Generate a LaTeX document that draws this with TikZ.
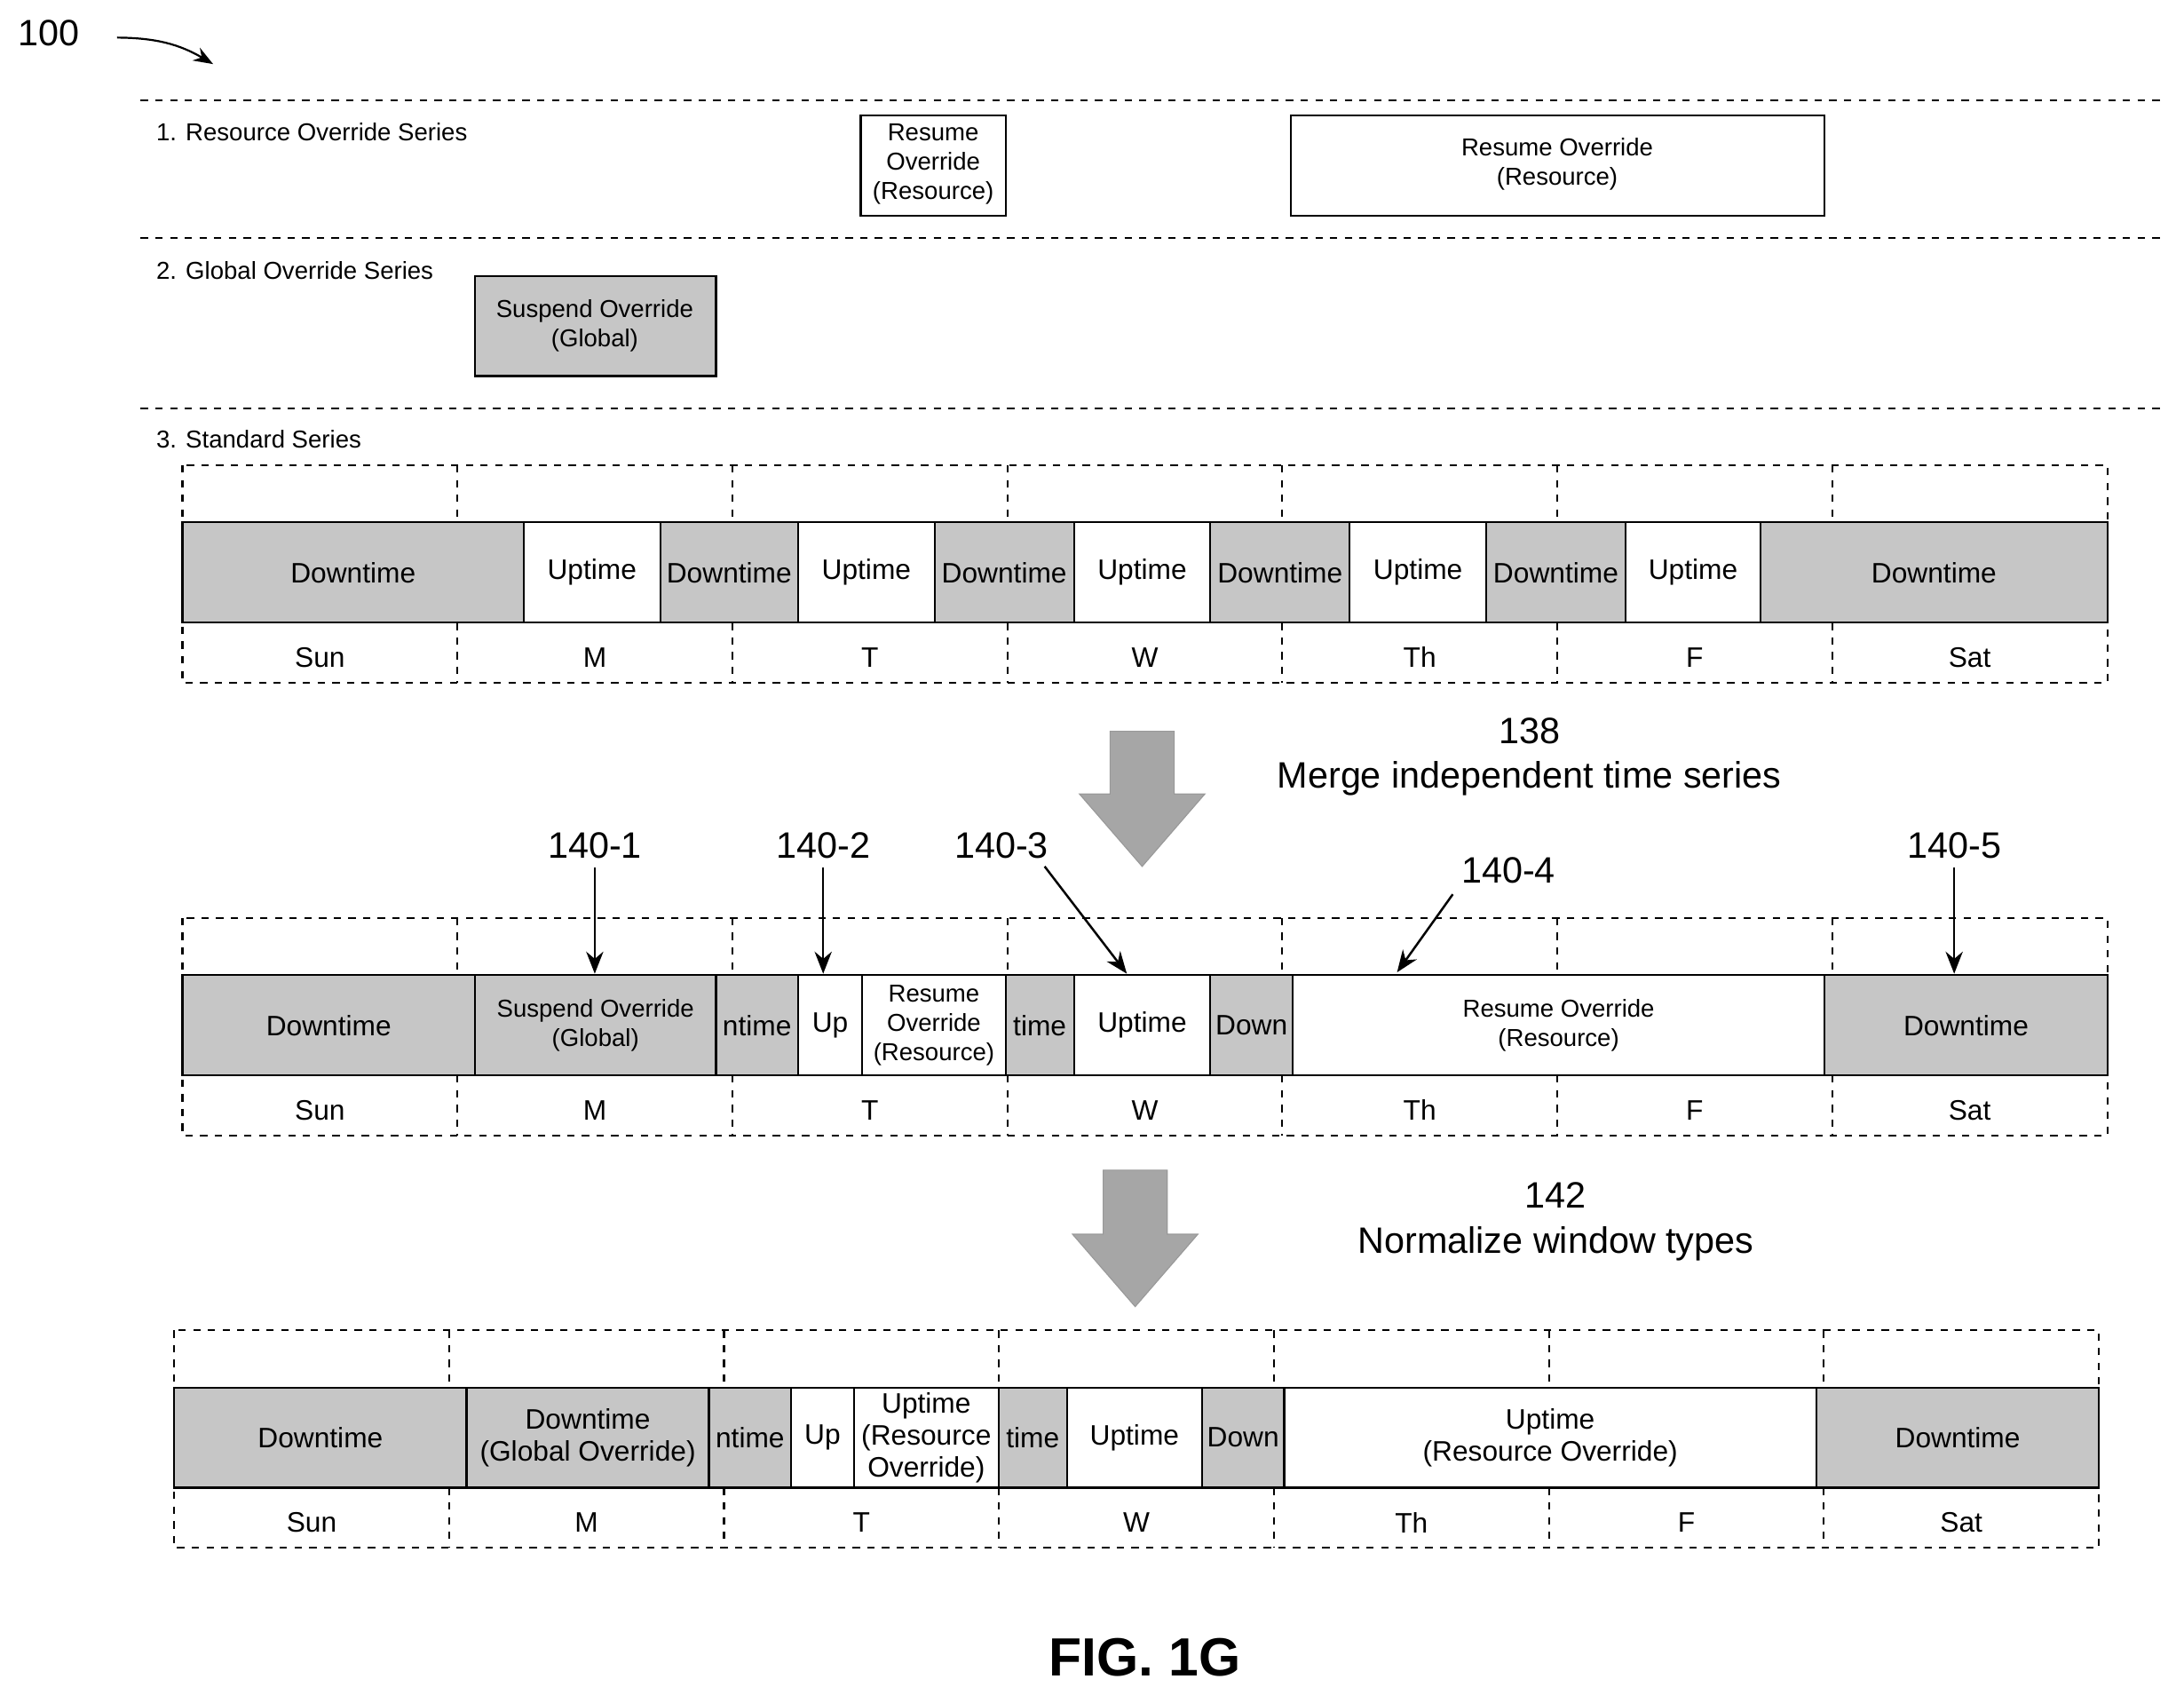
\documentclass[tikz,border=0pt]{standalone}
\usepackage{fontspec}
\setmainfont{Liberation Sans}
\usetikzlibrary{arrows.meta}

\tikzset{
  down/.style={draw, line width=0.8pt, fill=gray!45},
  up/.style={draw, line width=0.8pt, fill=white},
  frame/.style={draw, dashed, line width=0.8pt},
  txt/.style={font=\fontsize{11.5}{13}\selectfont, align=center},
  small/.style={font=\fontsize{10}{12}\selectfont, align=center},
  big/.style={font=\fontsize{15}{18}\selectfont, align=center},
  callout/.style={-{Stealth[length=9pt,width=7pt]}, line width=0.9pt},
  blockarrow/.style={fill=gray!70, draw=gray!80}
}

% segment of a bar: x1, x2, top y, style, text, text style
\newcommand{\seg}[6]{%
  \path[#4] (#1,#3) rectangle (#2,#3+72);
  \node[#6] at ({(#1+#2)/2},#3+36) {#5};
}
% week frame: x offset, top y
\newcommand{\weekframe}[2]{%
  \draw[frame] (#1+131,#2) rectangle (#1+1513,#2+156);
  \foreach \d/\n [count=\i from 0] in {Sun/a,M/b,T/c,W/d,Th/e,F/f,Sat/g} {
    \node[txt] at (#1+131+\i*197.4+98.7,#2+138) {\d};
  }
  \foreach \i in {1,...,6} {
    \draw[dashed, line width=0.8pt] (#1+131+\i*197.4,#2) -- (#1+131+\i*197.4,#2+41);
    \draw[dashed, line width=0.8pt] (#1+131+\i*197.4,#2+113) -- (#1+131+\i*197.4,#2+156);
  }
}
% big block arrow: center x, top y, tip y
\newcommand{\bigarrow}[3]{%
  \path[blockarrow] (#1-23,#2) -- (#1+23,#2) -- (#1+23,#3-52) -- (#1+45,#3-52)
    -- (#1,#3) -- (#1-45,#3-52) -- (#1-23,#3-52) -- cycle;
}

\begin{document}
\begin{tikzpicture}[x=0.02cm, y=-0.02cm]
  \useasboundingbox (0,0) rectangle (1568,1222);

  % figure number
  \node[big] (fig) at (35,24) {100};
  \draw[-{Stealth[length=8pt]}, line width=0.8pt] (84,27) to[bend left=15] (153,46);

  % series separators
  \foreach \y in {72,171,293} {
    \draw[dashed, line width=0.8pt] (101,\y) -- (1555,\y);
  }
  \node[small, anchor=west] at (106,95) {1. Resource Override Series};
  \node[small, anchor=west] at (106,194) {2. Global Override Series};
  \node[small, anchor=west] at (106,315) {3. Standard Series};

  % override series
  \path[up] (618,83) rectangle (722,155);
  \node[small] at (670,118) {Resume\\Override\\(Resource)};
  \path[up] (927,83) rectangle (1310,155);
  \node[small] at (1118,118) {Resume Override\\(Resource)};
  \path[down] (341,198) rectangle (514,270);
  \node[small] at (427,234) {Suspend Override\\(Global)};

  % standard series
  \weekframe{0}{334}
  \seg{131}{376}{375}{down}{Downtime}{txt}
  \seg{376}{474}{375}{up}{Uptime}{txt}
  \seg{474}{573}{375}{down}{Downtime}{txt}
  \seg{573}{671}{375}{up}{Uptime}{txt}
  \seg{671}{771}{375}{down}{Downtime}{txt}
  \seg{771}{869}{375}{up}{Uptime}{txt}
  \seg{869}{969}{375}{down}{Downtime}{txt}
  \seg{969}{1067}{375}{up}{Uptime}{txt}
  \seg{1067}{1167}{375}{down}{Downtime}{txt}
  \seg{1167}{1264}{375}{up}{Uptime}{txt}
  \seg{1264}{1513}{375}{down}{Downtime}{txt}

  % merge step
  \bigarrow{820}{525}{622}
  \node[big] (n138) at (1098,525) {138};
  \node[big] (merge) at (1098,559) {Merge independent time series};

  % merged series
  \weekframe{0}{659}
  \seg{131}{341}{700}{down}{Downtime}{txt}
  \seg{341}{514}{700}{down}{Suspend Override\\(Global)}{small}
  \seg{514}{573}{700}{down}{ntime}{txt}
  \seg{573}{619}{700}{up}{Up}{txt}
  \seg{619}{722}{700}{up}{Resume\\Override\\(Resource)}{small}
  \seg{722}{771}{700}{down}{time}{txt}
  \seg{771}{869}{700}{up}{Uptime}{txt}
  \seg{869}{928}{700}{down}{Down}{txt}
  \seg{928}{1310}{700}{up}{Resume Override\\(Resource)}{small}
  \seg{1310}{1513}{700}{down}{Downtime}{txt}

  \node[big] (w1) at (427,607) {140-1};
  \node[big] (w2) at (591,607) {140-2};
  \node[big] (w3) at (719,607) {140-3};
  \node[big] (w4) at (1083,625) {140-4};
  \node[big] (w5) at (1403,607) {140-5};
  \coordinate (t1) at (427,699);
  \coordinate (t2) at (591,699);
  \coordinate (t3) at (809,699);
  \coordinate (t4) at (1003,698);
  \coordinate (t5) at (1403,699);
  \draw[callout] (w1) -- (t1);
  \draw[callout] (w2) -- (t2);
  \draw[callout] (750,622) -- (t3);
  \draw[callout] (1043,642) -- (t4);
  \draw[callout] (w5) -- (t5);

  % normalize step
  \bigarrow{815}{840}{938}
  \node[big] (n142) at (1117,858) {142};
  \node[big] (norm) at (1117,893) {Normalize window types};

  % normalized series
  \weekframe{-6}{955}
  \seg{125}{335}{996}{down}{Downtime}{txt}
  \seg{335}{509}{996}{down}{Downtime\\(Global Override)}{txt}
  \seg{509}{568}{996}{down}{ntime}{txt}
  \seg{568}{613}{996}{up}{Up}{txt}
  \seg{613}{717}{996}{up}{Uptime\\(Resource\\Override)}{txt}
  \seg{717}{766}{996}{down}{time}{txt}
  \seg{766}{863}{996}{up}{Uptime}{txt}
  \seg{863}{922}{996}{down}{Down}{txt}
  \seg{922}{1304}{996}{up}{Uptime\\(Resource Override)}{txt}
  \seg{1304}{1507}{996}{down}{Downtime}{txt}

  \node[font=\bfseries\fontsize{22}{26}\selectfont] (title) at (822,1190) {FIG. 1G};
\end{tikzpicture}
\end{document}
